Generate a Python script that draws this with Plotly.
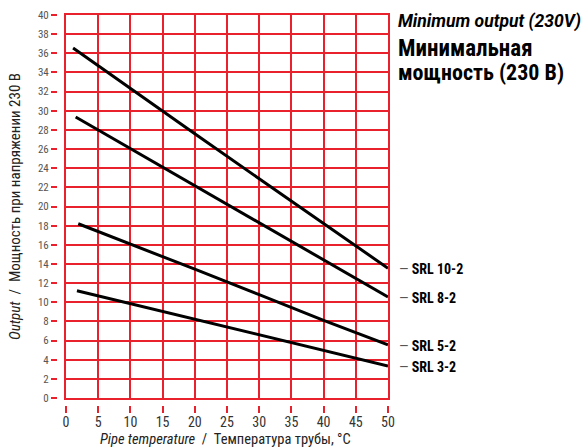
import plotly.graph_objects as go

# ---- data ----
temp_10 = [1.1, 10, 20, 30, 40, 50]
out_10 = [36.55, 32.3, 27.6, 22.9, 18.2, 13.55]
temp_8 = [1.5, 10, 20, 30, 40, 50]
out_8 = [29.35, 26.05, 22.2, 18.3, 14.45, 10.55]
temp_5 = [1.9, 10, 20, 30, 40, 50]
out_5 = [18.2, 16.1, 13.45, 10.8, 8.1, 5.55]
temp_3 = [1.7, 10, 20, 25, 30, 40, 50]
out_3 = [11.2, 9.85, 8.2, 7.4, 6.6, 5.0, 3.35]
series_names = ["SRL 10-2", "SRL 8-2", "SRL 5-2", "SRL 3-2"]
x_ticks = [0, 5, 10, 15, 20, 25, 30, 35, 40, 45, 50]
y_ticks = list(range(0, 42, 2))

W, H = 588, 448
ML, MR, MT, MB = 50, 200, 15, 40
PW, PH = W - ML - MR, H - MT - MB
FONT = "Roboto Condensed, Liberation Sans Narrow, sans-serif"
FONT_WIDE = "Roboto, Liberation Sans, sans-serif"
RED = "#e8212d"


def px_x(p):
    return (p - ML) / PW


def px_y(p):
    return (H - MB - p) / PH


x_dom0 = px_x(66)
y_dom0 = px_y(398)

fig = go.Figure()
for xs, ys, name in zip([temp_10, temp_8, temp_5, temp_3],
                        [out_10, out_8, out_5, out_3], series_names):
    fig.add_trace(go.Scatter(x=xs, y=ys, mode="lines", name=name,
                             line=dict(color="black", width=3),
                             showlegend=False, hoverinfo="skip"))

# invisible traces for the detached tick axes
fig.add_trace(go.Scatter(x=temp_3, y=out_3, xaxis="x2", yaxis="y", mode="lines",
                         line=dict(width=0), opacity=0, showlegend=False, hoverinfo="skip"))
fig.add_trace(go.Scatter(x=temp_3, y=out_3, xaxis="x", yaxis="y2", mode="lines",
                         line=dict(width=0), opacity=0, showlegend=False, hoverinfo="skip"))

fig.update_layout(
    width=W, height=H,
    margin=dict(l=ML, r=MR, t=MT, b=MB, autoexpand=False),
    paper_bgcolor="white", plot_bgcolor="white",
    font=dict(family=FONT, color="#222"),
    xaxis=dict(domain=[x_dom0, 1], range=[0, 50], tickvals=x_ticks,
               showgrid=True, gridcolor=RED, gridwidth=2,
               showline=True, linecolor=RED, linewidth=2, mirror=True,
               zeroline=False, showticklabels=False, ticks="", anchor="y"),
    yaxis=dict(domain=[y_dom0, 1], range=[0, 40], tickvals=y_ticks,
               showgrid=True, gridcolor=RED, gridwidth=2,
               showline=True, linecolor=RED, linewidth=2, mirror=True,
               zeroline=False, showticklabels=False, ticks="", anchor="x"),
    xaxis2=dict(overlaying="x", anchor="free", position=px_y(405),
                range=[0, 50], tickvals=x_ticks, ticktext=[str(v) for v in x_ticks],
                showgrid=False, zeroline=False, showline=False,
                ticks="outside", ticklen=7, tickwidth=2, tickcolor=RED,
                ticklabelstandoff=-3,
                tickfont=dict(family=FONT, size=14, color="#333")),
    yaxis2=dict(overlaying="y", anchor="free", position=px_x(57), side="left",
                range=[0, 40], tickvals=y_ticks, ticktext=[str(v) for v in y_ticks],
                showgrid=False, zeroline=False, showline=False,
                ticks="outside", ticklen=6, tickwidth=2, tickcolor=RED,
                tickfont=dict(family=FONT, size=11, color="#555")),
)

ann = []
# title
ann.append(dict(text="<b><i>Minimum output (230V)</i></b>", xref="paper", yref="paper",
                x=px_x(396), y=px_y(22), xanchor="left", yanchor="middle", showarrow=False,
                font=dict(family=FONT_WIDE, size=17.5, color="black", weight=900)))
ann.append(dict(text="<b>Минимальная</b>", xref="paper", yref="paper",
                x=px_x(396), y=px_y(48), xanchor="left", yanchor="middle", showarrow=False,
                font=dict(family=FONT, size=23, color="black")))
ann.append(dict(text="<b>мощность (230 В)</b>", xref="paper", yref="paper",
                x=px_x(396), y=px_y(72), xanchor="left", yanchor="middle", showarrow=False,
                font=dict(family=FONT, size=22, color="black")))
# series labels
for ys, name in zip([out_10, out_8, out_5, out_3], series_names):
    ann.append(dict(text="<span style='color:#555'>—</span>\u00a0<b>" + name + "</b>",
                    xref="paper", yref="y", x=px_x(397), y=ys[-1], yshift=-1,
                    xanchor="left", yanchor="middle", showarrow=False,
                    font=dict(family=FONT, size=14, color="black")))
# axis titles
ann.append(dict(text="<i>Output</i>\u00a0\u00a0/\u00a0\u00a0Мощность при напряжении 230 В",
                xref="paper", yref="paper", x=px_x(15), y=px_y(207), textangle=-90,
                xanchor="center", yanchor="middle", showarrow=False,
                font=dict(family=FONT, size=15, color="#222")))
ann.append(dict(text="<i>Pipe temperature</i>\u00a0\u00a0/\u00a0\u00a0Температура трубы, \u00b0C",
                xref="paper", yref="paper", x=px_x(225), y=px_y(439),
                xanchor="center", yanchor="middle", showarrow=False,
                font=dict(family=FONT, size=14.5, color="#222")))
fig.update_layout(annotations=ann)

fig.write_html("out.html", config={"displayModeBar": False},
               post_script="document.body.style.margin='0';")
